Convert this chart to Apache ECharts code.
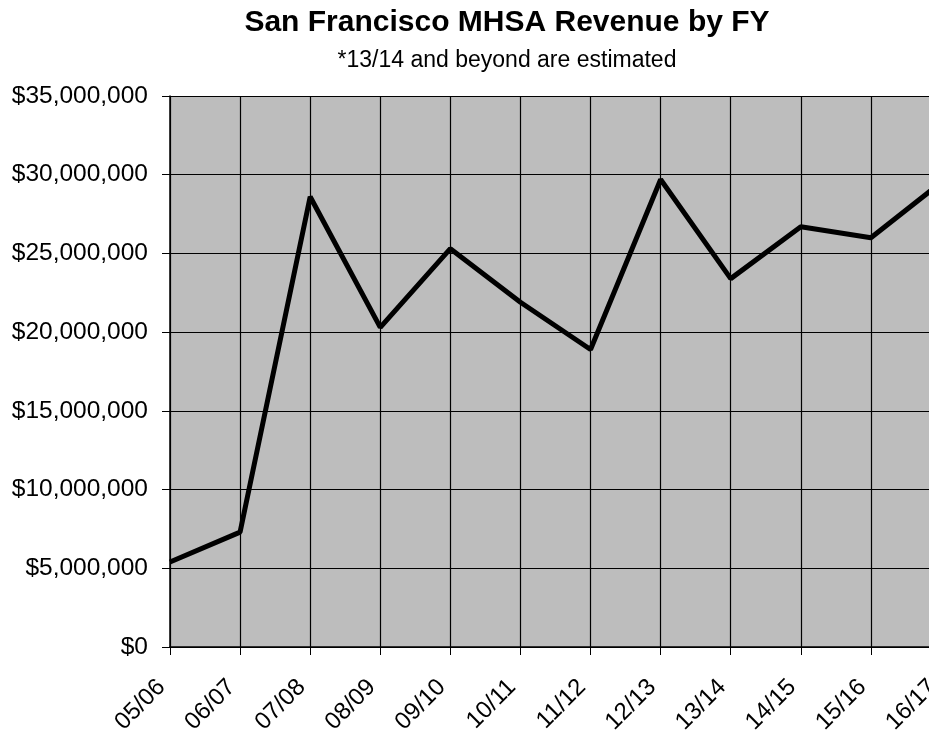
<!DOCTYPE html>
<html>
<head>
<meta charset="utf-8">
<script src="https://cdn.jsdelivr.net/npm/echarts@6/dist/echarts.min.js"></script>
<style>
  html, body { margin: 0; padding: 0; background: #fff; }
  #chart { width: 929px; height: 738px; }
</style>
</head>
<body>
<div id="chart"></div>
<script>
// fiscal years on the x axis
const fiscalYears = ['05/06', '06/07', '07/08', '08/09', '09/10', '10/11',
                     '11/12', '12/13', '13/14', '14/15', '15/16', '16/17'];
// revenue in dollars, 13/14 onwards are estimates
const revenue = [5400000, 7300000, 28600000, 20300000, 25300000, 21900000,
                 18900000, 29700000, 23400000, 26700000, 26000000, 29500000];

const chart = echarts.init(document.getElementById('chart'), null, { renderer: 'canvas' });

const fmtMoney = v => '$' + Number(v).toLocaleString('en-US');
const font = '"Liberation Sans", Arial, sans-serif';

chart.setOption({
    backgroundColor: '#ffffff',
    animation: false,
    title: {
        text: 'San Francisco MHSA Revenue by FY',
        subtext: '*13/14 and beyond are estimated',
        left: 502,
        textAlign: 'center',
        top: 3,
        itemGap: 11,
        textStyle: { fontFamily: font, fontSize: 30, fontWeight: 'bold', color: '#000' },
        subtextStyle: { fontFamily: font, fontSize: 23, color: '#000' }
    },
    grid: {
        left: 170,
        right: -12,
        top: 96,
        bottom: 91,
        outerBoundsMode: 'none',
        containLabel: false,
        show: true,
        backgroundColor: '#bdbdbd',
        borderWidth: 0
    },
    xAxis: {
        type: 'category',
        data: fiscalYears,
        boundaryGap: false,
        axisLine: { lineStyle: { color: '#000', width: 1.5 } },
        axisTick: { show: true, length: 8, alignWithLabel: true, lineStyle: { color: '#000' } },
        splitLine: { show: true, lineStyle: { color: '#000', width: 1.2 } },
        axisLabel: {
            rotate: 45,
            margin: 28,
            padding: [0, 12, 0, 0],
            fontFamily: font,
            fontSize: 24,
            color: '#000'
        }
    },
    yAxis: {
        type: 'value',
        min: 0,
        max: 35000000,
        interval: 5000000,
        axisLine: { show: true, lineStyle: { color: '#000', width: 1.5 } },
        axisTick: { show: true, length: 8, lineStyle: { color: '#000' } },
        splitLine: { show: true, lineStyle: { color: '#000', width: 1.2 } },
        axisLabel: {
            margin: 22,
            fontFamily: font,
            fontSize: 24.5,
            color: '#000',
            formatter: fmtMoney
        }
    },
    series: [{
        type: 'line',
        data: revenue,
        showSymbol: false,
        lineStyle: { color: '#000', width: 5 },
        clip: false
    }]
});
</script>
</body>
</html>
